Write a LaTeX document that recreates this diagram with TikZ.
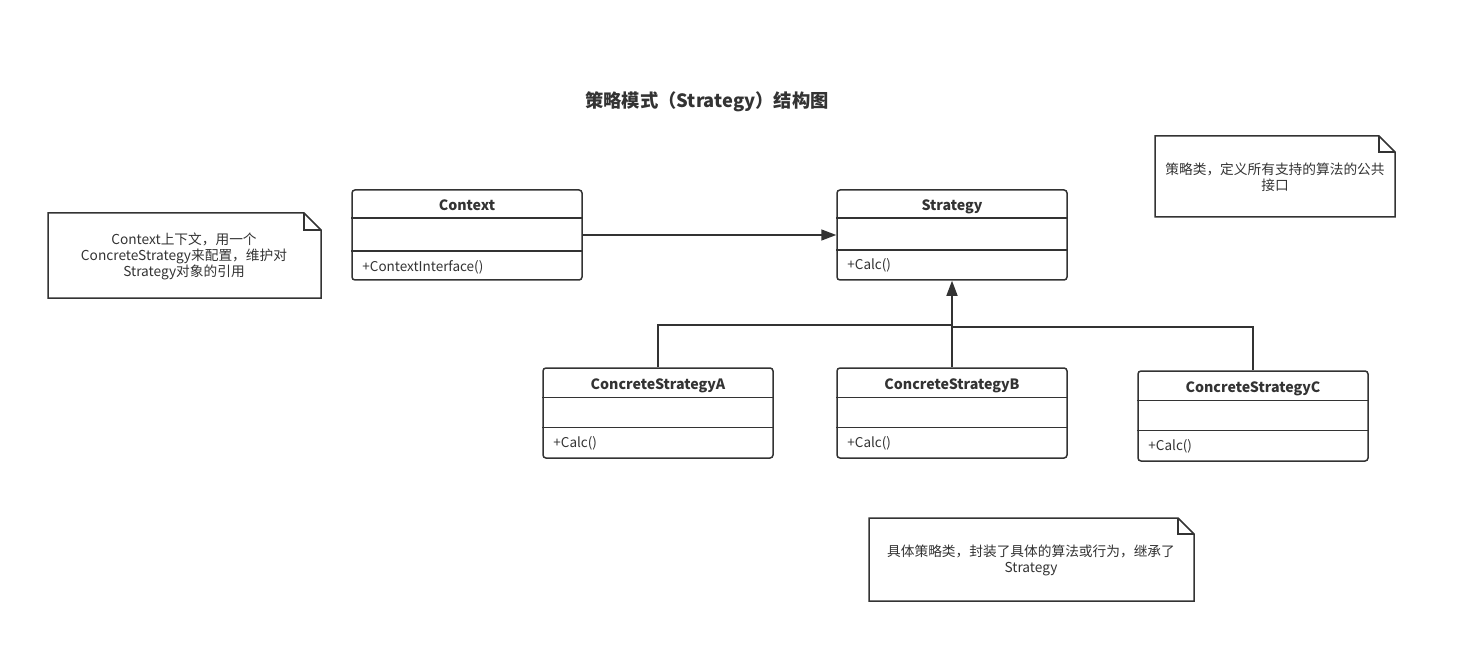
\documentclass[tikz,border=0pt]{standalone}
\usepackage{fontspec}
\setmainfont{Noto Sans CJK SC}
\usetikzlibrary{positioning,calc,arrows.meta}
\definecolor{umlgray}{HTML}{333333}

\tikzset{
  classbox/.style={draw=umlgray, line width=1.5pt, rounded corners=3pt,
    minimum width=230pt, minimum height=90pt, inner sep=0pt},
  classname/.style={font=\fontsize{14.2}{16}\selectfont\bfseries, text=umlgray,
    text height=10.5pt, text depth=3pt},
  classop/.style={font=\fontsize{13.5}{15}\selectfont, text=umlgray, anchor=west, inner sep=0pt},
  notetext/.style={font=\fontsize{13.7}{16}\selectfont, text=umlgray, align=center},
  umlline/.style={draw=umlgray, line width=1.5pt},
  notebox/.style={umlline, line join=miter},
}

\begin{document}
\begin{tikzpicture}[x=1pt, y=-1pt]
\useasboundingbox (0,0) rectangle (1457,663);

\node[font=\fontsize{18.3}{20}\selectfont\bfseries, text=umlgray] (title) at (707,102) {策略模式（Strategy）结构图};

% classes
\node[classbox] (ctx) at (467,235) {};
\node[classbox] (str) at (952,235) {};
\node[classbox] (csa) at (658,413) {};
\node[classbox] (csb) at (952,413) {};
\node[classbox] (csc) at (1253,416) {};

\node[classname] (ctx_n) at ($(ctx.north)+(0,18)$) {Context};
\node[classname] (str_n) at ($(str.north)+(0,18)$) {Strategy};
\node[classname] (csa_n) at ($(csa.north)+(0,18)$) {ConcreteStrategyA};
\node[classname] (csb_n) at ($(csb.north)+(0,18)$) {ConcreteStrategyB};
\node[classname] (csc_n) at ($(csc.north)+(0,18)$) {ConcreteStrategyC};

\node[classop] (ctx_op) at ($(ctx.south west)+(11,-13)$) {+ContextInterface()};
\node[classop] (str_op) at ($(str.south west)+(11,-15)$) {+Calc()};
\node[classop] (csa_op) at ($(csa.south west)+(11,-15)$) {+Calc()};
\node[classop] (csb_op) at ($(csb.south west)+(11,-15)$) {+Calc()};
\node[classop] (csc_op) at ($(csc.south west)+(11,-15)$) {+Calc()};

% compartments
\draw[umlline] ($(ctx.north west)+(0,29)$) -- ($(ctx.north east)+(0,29)$);
\draw[umlline] ($(ctx.north west)+(0,62)$) -- ($(ctx.north east)+(0,62)$);
\draw[umlline] ($(str.north west)+(0,29)$) -- ($(str.north east)+(0,29)$);
\draw[umlline] ($(str.north west)+(0,61)$) -- ($(str.north east)+(0,61)$);
\draw[umlline] ($(csa.north west)+(0,30)$) -- ($(csa.north east)+(0,30)$);
\draw[umlline] ($(csa.north west)+(0,60)$) -- ($(csa.north east)+(0,60)$);
\draw[umlline] ($(csb.north west)+(0,30)$) -- ($(csb.north east)+(0,30)$);
\draw[umlline] ($(csb.north west)+(0,60)$) -- ($(csb.north east)+(0,60)$);
\draw[umlline] ($(csc.north west)+(0,30)$) -- ($(csc.north east)+(0,30)$);
\draw[umlline] ($(csc.north west)+(0,60)$) -- ($(csc.north east)+(0,60)$);

% relations
\draw[umlline, -{Triangle[length=15pt,width=11pt]}] (ctx.east) -- (str.west);
\draw[umlline, -{Triangle[length=15pt,width=11pt]}] (csb.north) -- (str.south);
\draw[umlline] (csa.north) |- ($(str.south)+(0,44)$);
\draw[umlline] (csc.north) |- ($(str.south)+(0,46)$);

% notes
\node[notetext] (note_ctx) at (184,256) {Context上下文，用一个\\ConcreteStrategy来配置，维护对\\Strategy对象的引用};
\draw[notebox] (48,213) -- (304,213) -- (321,230) -- (321,298) -- (48,298) -- cycle;
\draw[notebox] (304,213) -- (304,230) -- (321,230);

\node[notetext] (note_str) at (1275,177) {策略类，定义所有支持的算法的公共\\接口};
\draw[notebox] (1155,136) -- (1379,136) -- (1395,152) -- (1395,217) -- (1155,217) -- cycle;
\draw[notebox] (1379,136) -- (1379,152) -- (1395,152);

\node[notetext] (note_cs) at (1031,560) {具体策略类，封装了具体的算法或行为，继承了\\Strategy};
\draw[notebox] (869,518) -- (1178,518) -- (1194,534) -- (1194,601) -- (869,601) -- cycle;
\draw[notebox] (1178,518) -- (1178,534) -- (1194,534);
\end{tikzpicture}
\end{document}
